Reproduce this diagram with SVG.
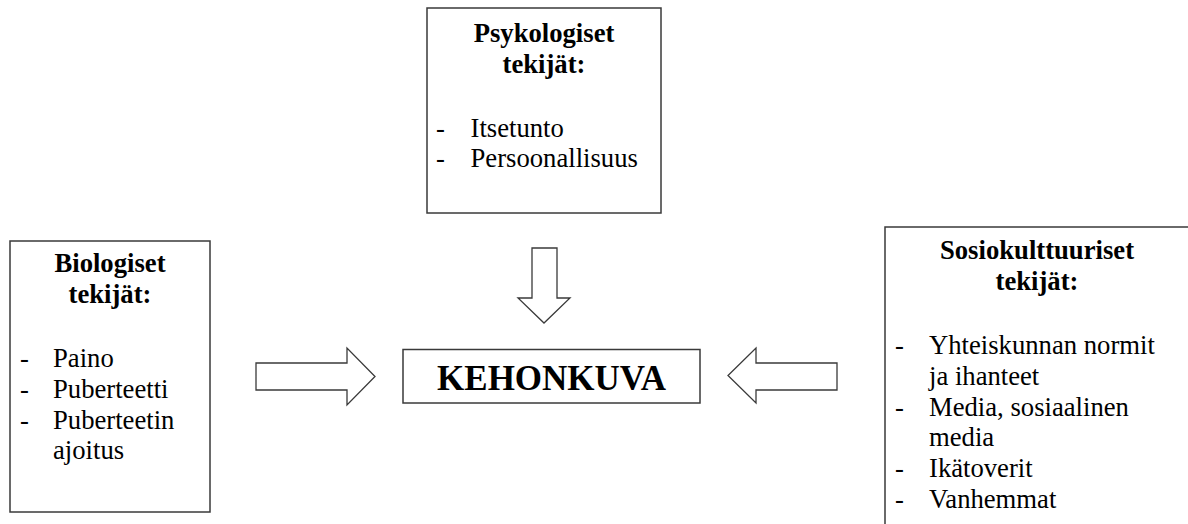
<svg xmlns="http://www.w3.org/2000/svg" width="1188" height="524" viewBox="0 0 1188 524">
<style>
.box{fill:#fff;stroke:#3a3a3a;stroke-width:1.5}
.arr{fill:#fff;stroke:#3a3a3a;stroke-width:1.3;stroke-linejoin:miter}
.h{font-family:"Liberation Serif","Times New Roman",serif;font-weight:bold;font-size:26.67px;fill:#000;text-anchor:middle}
.t{font-family:"Liberation Serif","Times New Roman",serif;font-size:26.67px;fill:#000}
.k{font-family:"Liberation Serif","Times New Roman",serif;font-weight:bold;font-size:35px;fill:#000;text-anchor:middle}
</style>
<rect width="1188" height="524" fill="#fff"/>
<g id="psykologiset">
<rect class="box" x="427" y="8" width="234" height="205"/>
<text class="h" x="544" y="41.5">Psykologiset</text>
<text class="h" x="544" y="72.5">tekijät:</text>
<text class="t" x="436" y="136.5">-</text><text class="t" x="470.5" y="136.5">Itsetunto</text>
<text class="t" x="436" y="167">-</text><text class="t" x="470.5" y="167">Persoonallisuus</text>
</g>
<g id="biologiset">
<rect class="box" x="10" y="241" width="200" height="271"/>
<text class="h" x="110" y="272">Biologiset</text>
<text class="h" x="110" y="303">tekijät:</text>
<text class="t" x="20" y="367">-</text><text class="t" x="53" y="367">Paino</text>
<text class="t" x="20" y="398">-</text><text class="t" x="53" y="398">Puberteetti</text>
<text class="t" x="20" y="428.5">-</text><text class="t" x="53" y="428.5">Puberteetin</text>
<text class="t" x="53" y="459">ajoitus</text>
</g>
<g id="sosiokulttuuriset">
<rect class="box" x="885" y="227" width="310" height="320"/>
<text class="h" x="1037" y="259">Sosiokulttuuriset</text>
<text class="h" x="1037" y="290">tekijät:</text>
<text class="t" x="895" y="354">-</text><text class="t" x="929" y="354">Yhteiskunnan normit</text>
<text class="t" x="929" y="385">ja ihanteet</text>
<text class="t" x="895" y="415.5">-</text><text class="t" x="929" y="415.5">Media, sosiaalinen</text>
<text class="t" x="929" y="446">media</text>
<text class="t" x="895" y="477">-</text><text class="t" x="929" y="477">Ikätoverit</text>
<text class="t" x="895" y="507.5">-</text><text class="t" x="929" y="507.5">Vanhemmat</text>
</g>
<g id="kehonkuva">
<rect class="box" x="403" y="349.5" width="297" height="53.5"/>
<text class="k" x="551.5" y="390">KEHONKUVA</text>
</g>
<g id="connectors">
<polygon class="arr" points="532,248 557,248 557,298 570,298 544,323 518,298 532,298"/>
<polygon class="arr" points="256,363 347,363 347,348 375,376.5 347,405 347,390 256,390"/>
<polygon class="arr" points="837,363 756,363 756,348 728,375.5 756,403 756,390 837,390"/>
</g>
</svg>
